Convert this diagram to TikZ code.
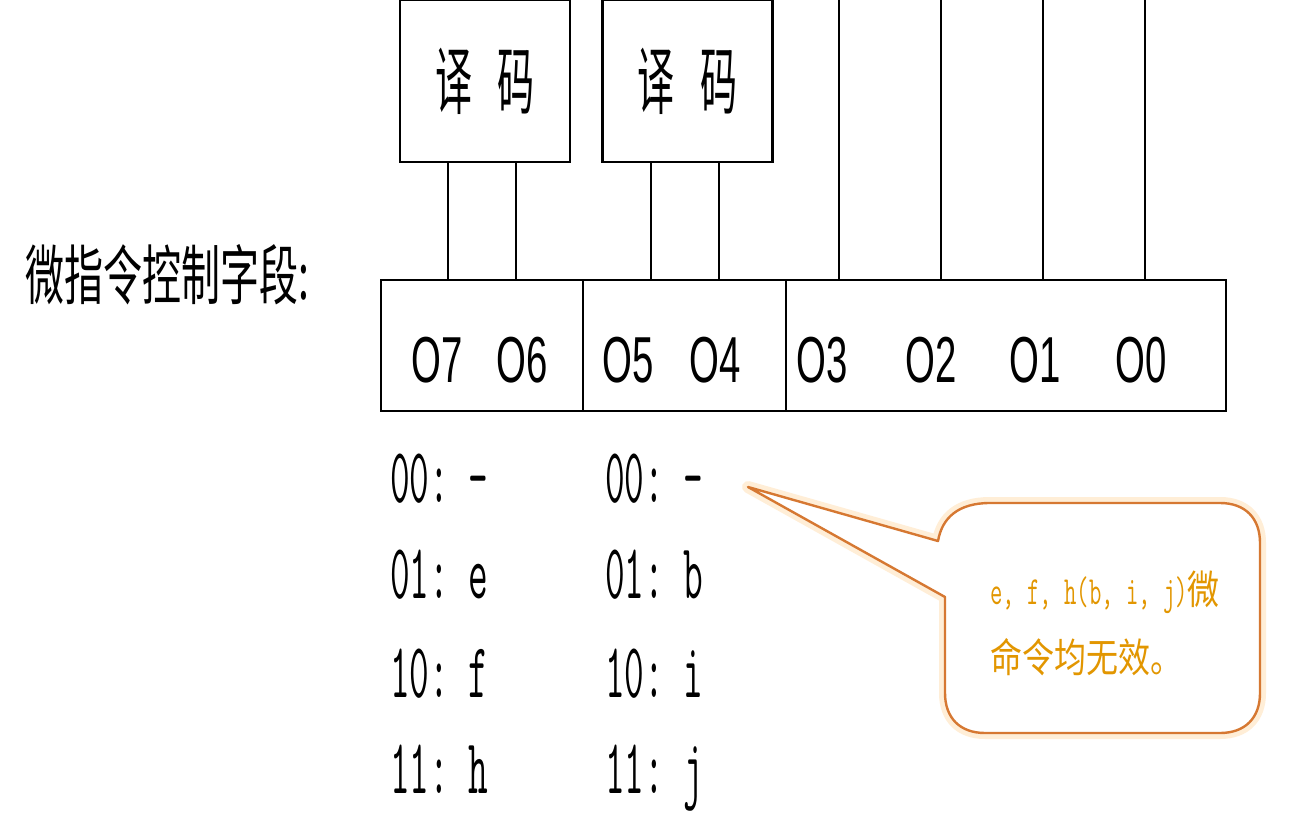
\documentclass[tikz,border=0pt]{standalone}
\usepackage{fontspec}
\usepackage{graphicx}
\setmainfont{Liberation Sans}
\newfontfamily\cjk{Noto Sans CJK SC}
\definecolor{calloutline}{RGB}{214,120,50}
\definecolor{callouttext}{RGB}{226,150,0}
\definecolor{calloutglow}{RGB}{255,238,215}
\tikzset{
  decbox/.style={draw, line width=2.6pt, minimum width=170pt, minimum height=162pt, inner sep=0pt},
  cell/.style={draw, line width=2.6pt, minimum height=131pt, inner sep=0pt},
  wire/.style={line width=2pt},
  olabel/.style={anchor=base, inner sep=0pt, font=\fontsize{65}{65}\selectfont},
  code/.style={anchor=base west, inner sep=0pt, font=\ttfamily\fontsize{78}{78}\selectfont},
  callout/.style={draw=calloutline, line width=2.4pt, line join=round, fill=white,
    preaction={draw=calloutglow, line width=12pt, line join=round}},
}
\newcommand{\Oname}[1]{\scalebox{0.59}[1]{O#1}}
\newcommand{\Code}[1]{\scalebox{0.49}[1]{#1}}
\begin{document}
\begin{tikzpicture}[x=1pt,y=-1pt]
\useasboundingbox[fill=white] (0,0) rectangle (1289,818);

% left title
\node[inner sep=0pt] (title) at (167,275)
  {\cjk\scalebox{0.6}[1]{\fontsize{65}{65}\selectfont 微指令控制字段:}};

% decoders
\node[decbox] (dec1) at (485,81)
  {\cjk\scalebox{0.5}[1]{\fontsize{74}{74}\selectfont 译\hspace{52pt}码}};
\node[decbox] (dec2) at (687.5,81)
  {\cjk\scalebox{0.5}[1]{\fontsize{74}{74}\selectfont 译\hspace{52pt}码}};

% register cells
\node[cell, minimum width=202pt] (c1) at (482,345.5) {};
\node[cell, minimum width=203pt] (c2) at (684.5,345.5) {};
\node[cell, minimum width=440pt] (c3) at (1006,345.5) {};

% bit labels
\node[olabel] (o7) at (437,382) {\Oname{7}};
\node[olabel] (o6) at (522,382) {\Oname{6}};
\node[olabel] (o5) at (628,382) {\Oname{5}};
\node[olabel] (o4) at (715,382) {\Oname{4}};
\node[olabel] (o3) at (822,382) {\Oname{3}};
\node[olabel] (o2) at (931,382) {\Oname{2}};
\node[olabel] (o1) at (1035,382) {\Oname{1}};
\node[olabel] (o0) at (1141,382) {\Oname{0}};

% decoder wires
\coordinate (w7) at (448,0);
\coordinate (w6) at (516,0);
\coordinate (w5) at (651,0);
\coordinate (w4) at (719,0);
\draw[wire] (dec1.south -| w7) -- (c1.north -| w7);
\draw[wire] (dec1.south -| w6) -- (c1.north -| w6);
\draw[wire] (dec2.south -| w5) -- (c2.north -| w5);
\draw[wire] (dec2.south -| w4) -- (c2.north -| w4);

% direct wires
\coordinate (w3) at (839,0);
\coordinate (w2) at (941,0);
\coordinate (w1) at (1043,0);
\coordinate (w0) at (1145,0);
\foreach \w in {w3,w2,w1,w0} {
  \draw[wire] (\w) -- (c3.north -| \w);
}

% code lists
\node[code] (a0) at (390,502) {\Code{00:~-}};
\node[code] (a1) at (390,598) {\Code{01:~e}};
\node[code] (a2) at (390,697) {\Code{10:~f}};
\node[code] (a3) at (390,793) {\Code{11:~h}};
\node[code] (b0) at (605,502) {\Code{00:~-}};
\node[code] (b1) at (605,598) {\Code{01:~b}};
\node[code] (b2) at (605,697) {\Code{10:~i}};
\node[code] (b3) at (605,793) {\Code{11:~j}};

% callout
\coordinate (tip) at (748,487);
\draw[callout] (tip) -- (938,541)
  .. controls (942,518) and (958,503) .. (990,503) -- (1220,503)
  .. controls (1245,503) and (1260,518) .. (1260,543) -- (1260,693)
  .. controls (1260,718) and (1245,733) .. (1220,733) -- (985,733)
  .. controls (960,733) and (945,718) .. (945,693) -- (945,597) -- cycle;
\node[anchor=base west, inner sep=0pt, text=callouttext] (note1) at (990,604)
  {\scalebox{0.6}[1]{\ttfamily\fontsize{40}{40}\selectfont e,~f,~h(b,~i,~j)}\cjk\scalebox{0.8}[1]{\fontsize{40}{40}\selectfont 微}};
\node[anchor=base west, inner sep=0pt, text=callouttext] (note2) at (990,672)
  {\cjk\scalebox{0.8}[1]{\fontsize{40}{40}\selectfont 命令均无效。}};
\end{tikzpicture}
\end{document}
